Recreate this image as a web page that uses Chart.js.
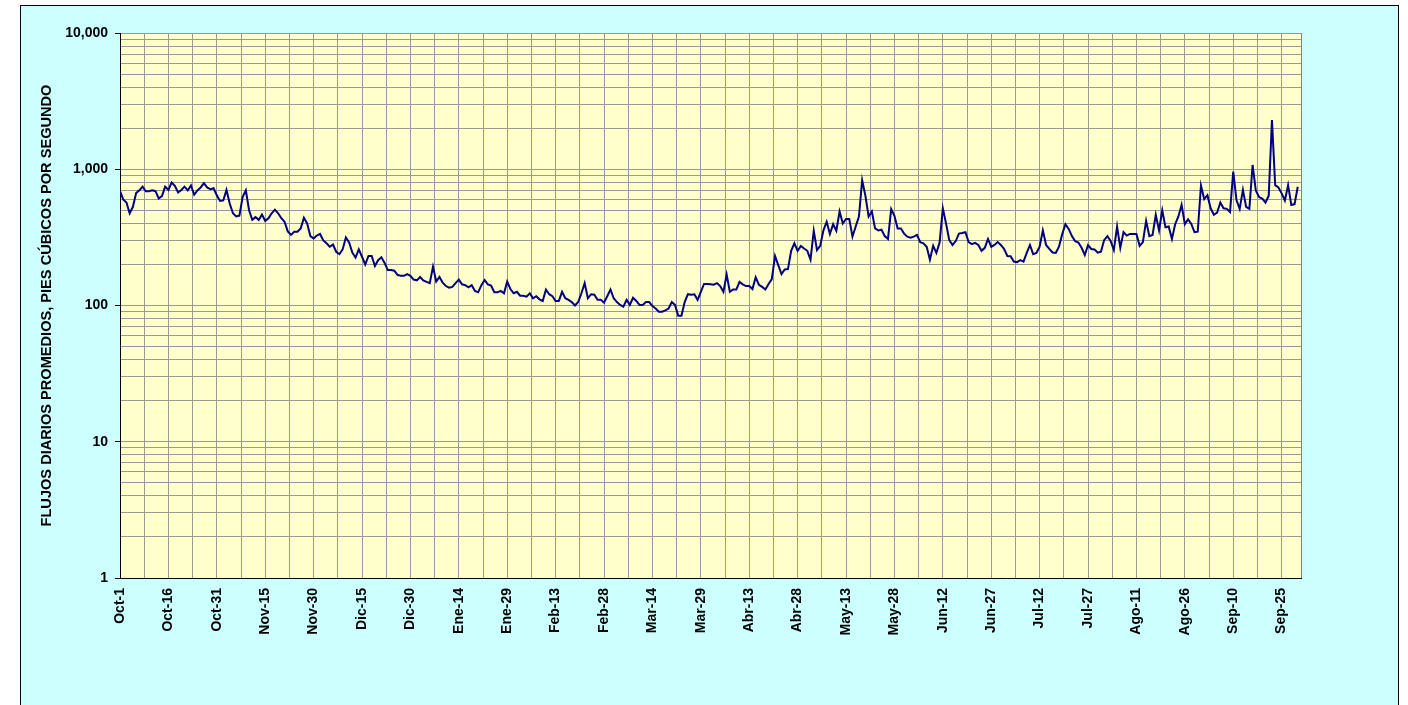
<!DOCTYPE html>
<html>
<head>
<meta charset="utf-8">
<title>Flujos diarios promedios</title>
<script src="https://cdn.jsdelivr.net/npm/chart.js@4.4.0/dist/chart.umd.min.js"></script>
<style>
  html, body { margin: 0; padding: 0; background: #fff; overflow: hidden; }
  #frame { position: absolute; left: 20px; top: 5px; width: 1377px; height: 720px; background: #ccffff; border: 1px solid #000; }
  #chart { position: absolute; left: 0; top: 0; }
</style>
</head>
<body>
<div id="frame"></div>
<canvas id="chart" width="1408" height="705"></canvas>
<script>
// Daily mean flows (cfs), one array per month, Oct-1 through Sep-30 (leap year)
const octubre = [690, 600, 570, 475, 530, 670, 700, 745, 690, 690, 700, 690, 610, 635, 745, 705, 800, 755, 675, 705, 745, 700, 760, 650, 700, 735, 790, 735, 715, 725, 645];
const noviembre = [585, 590, 705, 560, 475, 450, 457, 625, 700, 500, 425, 445, 425, 465, 418, 437, 475, 505, 475, 437, 412, 350, 330, 348, 348, 368, 440, 400, 323, 310];
const diciembre = [326, 335, 300, 286, 270, 280, 248, 238, 258, 316, 290, 245, 225, 258, 228, 200, 231, 231, 195, 215, 226, 205, 182, 182, 180, 168, 165, 165, 170, 165, 155];
const enero = [153, 162, 153, 149, 146, 193, 150, 162, 147, 139, 135, 137, 146, 155, 143, 141, 136, 141, 128, 125, 141, 154, 143, 140, 125, 125, 128, 123, 150, 132, 123];
const febrero = [126, 118, 118, 116, 123, 113, 117, 111, 108, 131, 121, 117, 108, 108, 126, 113, 110, 106, 100, 106, 123, 146, 113, 121, 120, 110, 110, 105, 117];
const marzo = [131, 113, 106, 101, 98, 110, 101, 114, 108, 101, 101, 106, 106, 99, 95, 90, 90, 92, 95, 106, 101, 84, 84, 106, 121, 120, 121, 110, 126, 144, 144];
const abril = [143, 142, 146, 139, 126, 169, 126, 131, 131, 149, 143, 139, 139, 132, 161, 142, 137, 131, 144, 156, 231, 198, 170, 184, 185, 252, 286, 252, 274, 262];
const mayo = [252, 217, 354, 255, 274, 356, 412, 335, 395, 354, 490, 400, 432, 432, 320, 380, 450, 830, 640, 450, 490, 368, 356, 360, 323, 308, 510, 455, 368, 368, 337];
const junio = [320, 315, 320, 330, 292, 286, 270, 217, 274, 243, 290, 517, 400, 302, 278, 297, 337, 340, 345, 292, 282, 288, 278, 252, 265, 308, 270, 278, 292, 278];
const julio = [260, 231, 230, 210, 208, 215, 210, 243, 278, 238, 243, 270, 356, 278, 260, 245, 243, 270, 334, 395, 365, 323, 297, 290, 265, 235, 278, 260, 258, 244, 248];
const agosto = [302, 323, 298, 255, 380, 265, 346, 326, 335, 335, 335, 274, 292, 418, 323, 329, 463, 356, 500, 375, 380, 308, 395, 450, 547, 395, 430, 397, 346, 348, 760];
const septiembre = [604, 645, 517, 463, 480, 570, 517, 512, 485, 960, 595, 512, 705, 530, 512, 1075, 698, 625, 610, 570, 640, 2300, 765, 735, 665, 590, 765, 547, 555, 744];

// Axis labels
const xTickLabels = ["Oct-1", "Oct-16", "Oct-31", "Nov-15", "Nov-30", "Dic-15", "Dic-30", "Ene-14", "Ene-29", "Feb-13", "Feb-28", "Mar-14", "Mar-29", "Abr-13", "Abr-28", "May-13", "May-28", "Jun-12", "Jun-27", "Jul-12", "Jul-27", "Ago-11", "Ago-26", "Sep-10", "Sep-25"];
const yTickValues = [1, 10, 100, 1000, 10000];
const yTickLabels = ["1", "10", "100", "1,000", "10,000"];
const yTitle = "FLUJOS DIARIOS PROMEDIOS, PIES CÚBICOS POR SEGUNDO";

const flows = [].concat(octubre, noviembre, diciembre, enero, febrero, marzo, abril, mayo, junio, julio, agosto, septiembre);
const points = flows.map((v, i) => ({ x: i, y: v }));

// gridlines: every half label step on x, 1..9 per decade on y
const xGrid = [];
for (let d = 0; d <= 360; d += 7.5) xGrid.push(d);
const yGrid = [];
for (let e = 0; e < 4; e++) {
	for (let m = 1; m < 10; m++) yGrid.push(m * Math.pow(10, e));
}
yGrid.push(10000);

const FONT = "Arial, 'Liberation Sans', sans-serif";
const GRID = "#999999";

// Paints the pale yellow plot area and its right border
const plotBackground = {
	id: "plotBackground",
	beforeDraw(chart) {
		const { ctx, chartArea: a } = chart;
		ctx.save();
		ctx.fillStyle = "#ffffcc";
		ctx.fillRect(a.left, a.top, a.right - a.left, a.bottom - a.top);
		ctx.strokeStyle = "#808080";
		ctx.lineWidth = 1;
		ctx.beginPath();
		ctx.moveTo(a.right + 0.5, a.top);
		ctx.lineTo(a.right + 0.5, a.bottom);
		ctx.stroke();
		ctx.restore();
	}
};

new Chart(document.getElementById("chart"), {
	type: "line",
	data: {
		datasets: [{
			data: points,
			borderColor: "#000080",
			borderWidth: 2,
			pointRadius: 0,
			tension: 0,
			fill: false
		}]
	},
	options: {
		responsive: false,
		animation: false,
		layout: { padding: { left: 0, top: 33, right: 107, bottom: 0 } },
		plugins: {
			legend: { display: false },
			tooltip: { enabled: false }
		},
		scales: {
			x: {
				type: "linear",
				min: 0,
				max: 366,
				afterBuildTicks: (axis) => { axis.ticks = xGrid.map(v => ({ value: v })); },
				afterFit: (axis) => { axis.height = 127; },
				grid: { color: GRID, lineWidth: 1, drawTicks: false },
				border: { color: "#000", width: 1 },
				ticks: {
					autoSkip: false,
					minRotation: 90,
					maxRotation: 90,
					padding: 10,
					color: "#000",
					font: { family: FONT, size: 14, weight: "bold" },
					callback: (value) => value % 15 === 0 ? xTickLabels[value / 15] : ""
				}
			},
			y: {
				type: "logarithmic",
				min: 1,
				max: 10000,
				afterBuildTicks: (axis) => { axis.ticks = yGrid.map(v => ({ value: v })); },
				afterFit: (axis) => { axis.width = 120; },
				grid: {
					color: GRID,
					lineWidth: 1,
					tickLength: 5,
					tickColor: (c) => c.tick && yTickValues.includes(c.tick.value) ? "#000" : "rgba(0,0,0,0)"
				},
				border: { color: "#000", width: 1 },
				title: {
					display: true,
					text: yTitle,
					color: "#000",
					padding: { top: 38, bottom: 0 },
					font: { family: FONT, size: 14.6, weight: "bold" }
				},
				ticks: {
					autoSkip: false,
					padding: 7,
					color: "#000",
					font: { family: FONT, size: 14, weight: "bold" },
					callback: (value) => {
						const i = yTickValues.indexOf(value);
						return i >= 0 ? yTickLabels[i] : "";
					}
				}
			}
		}
	},
	plugins: [plotBackground]
});
</script>
</body>
</html>
